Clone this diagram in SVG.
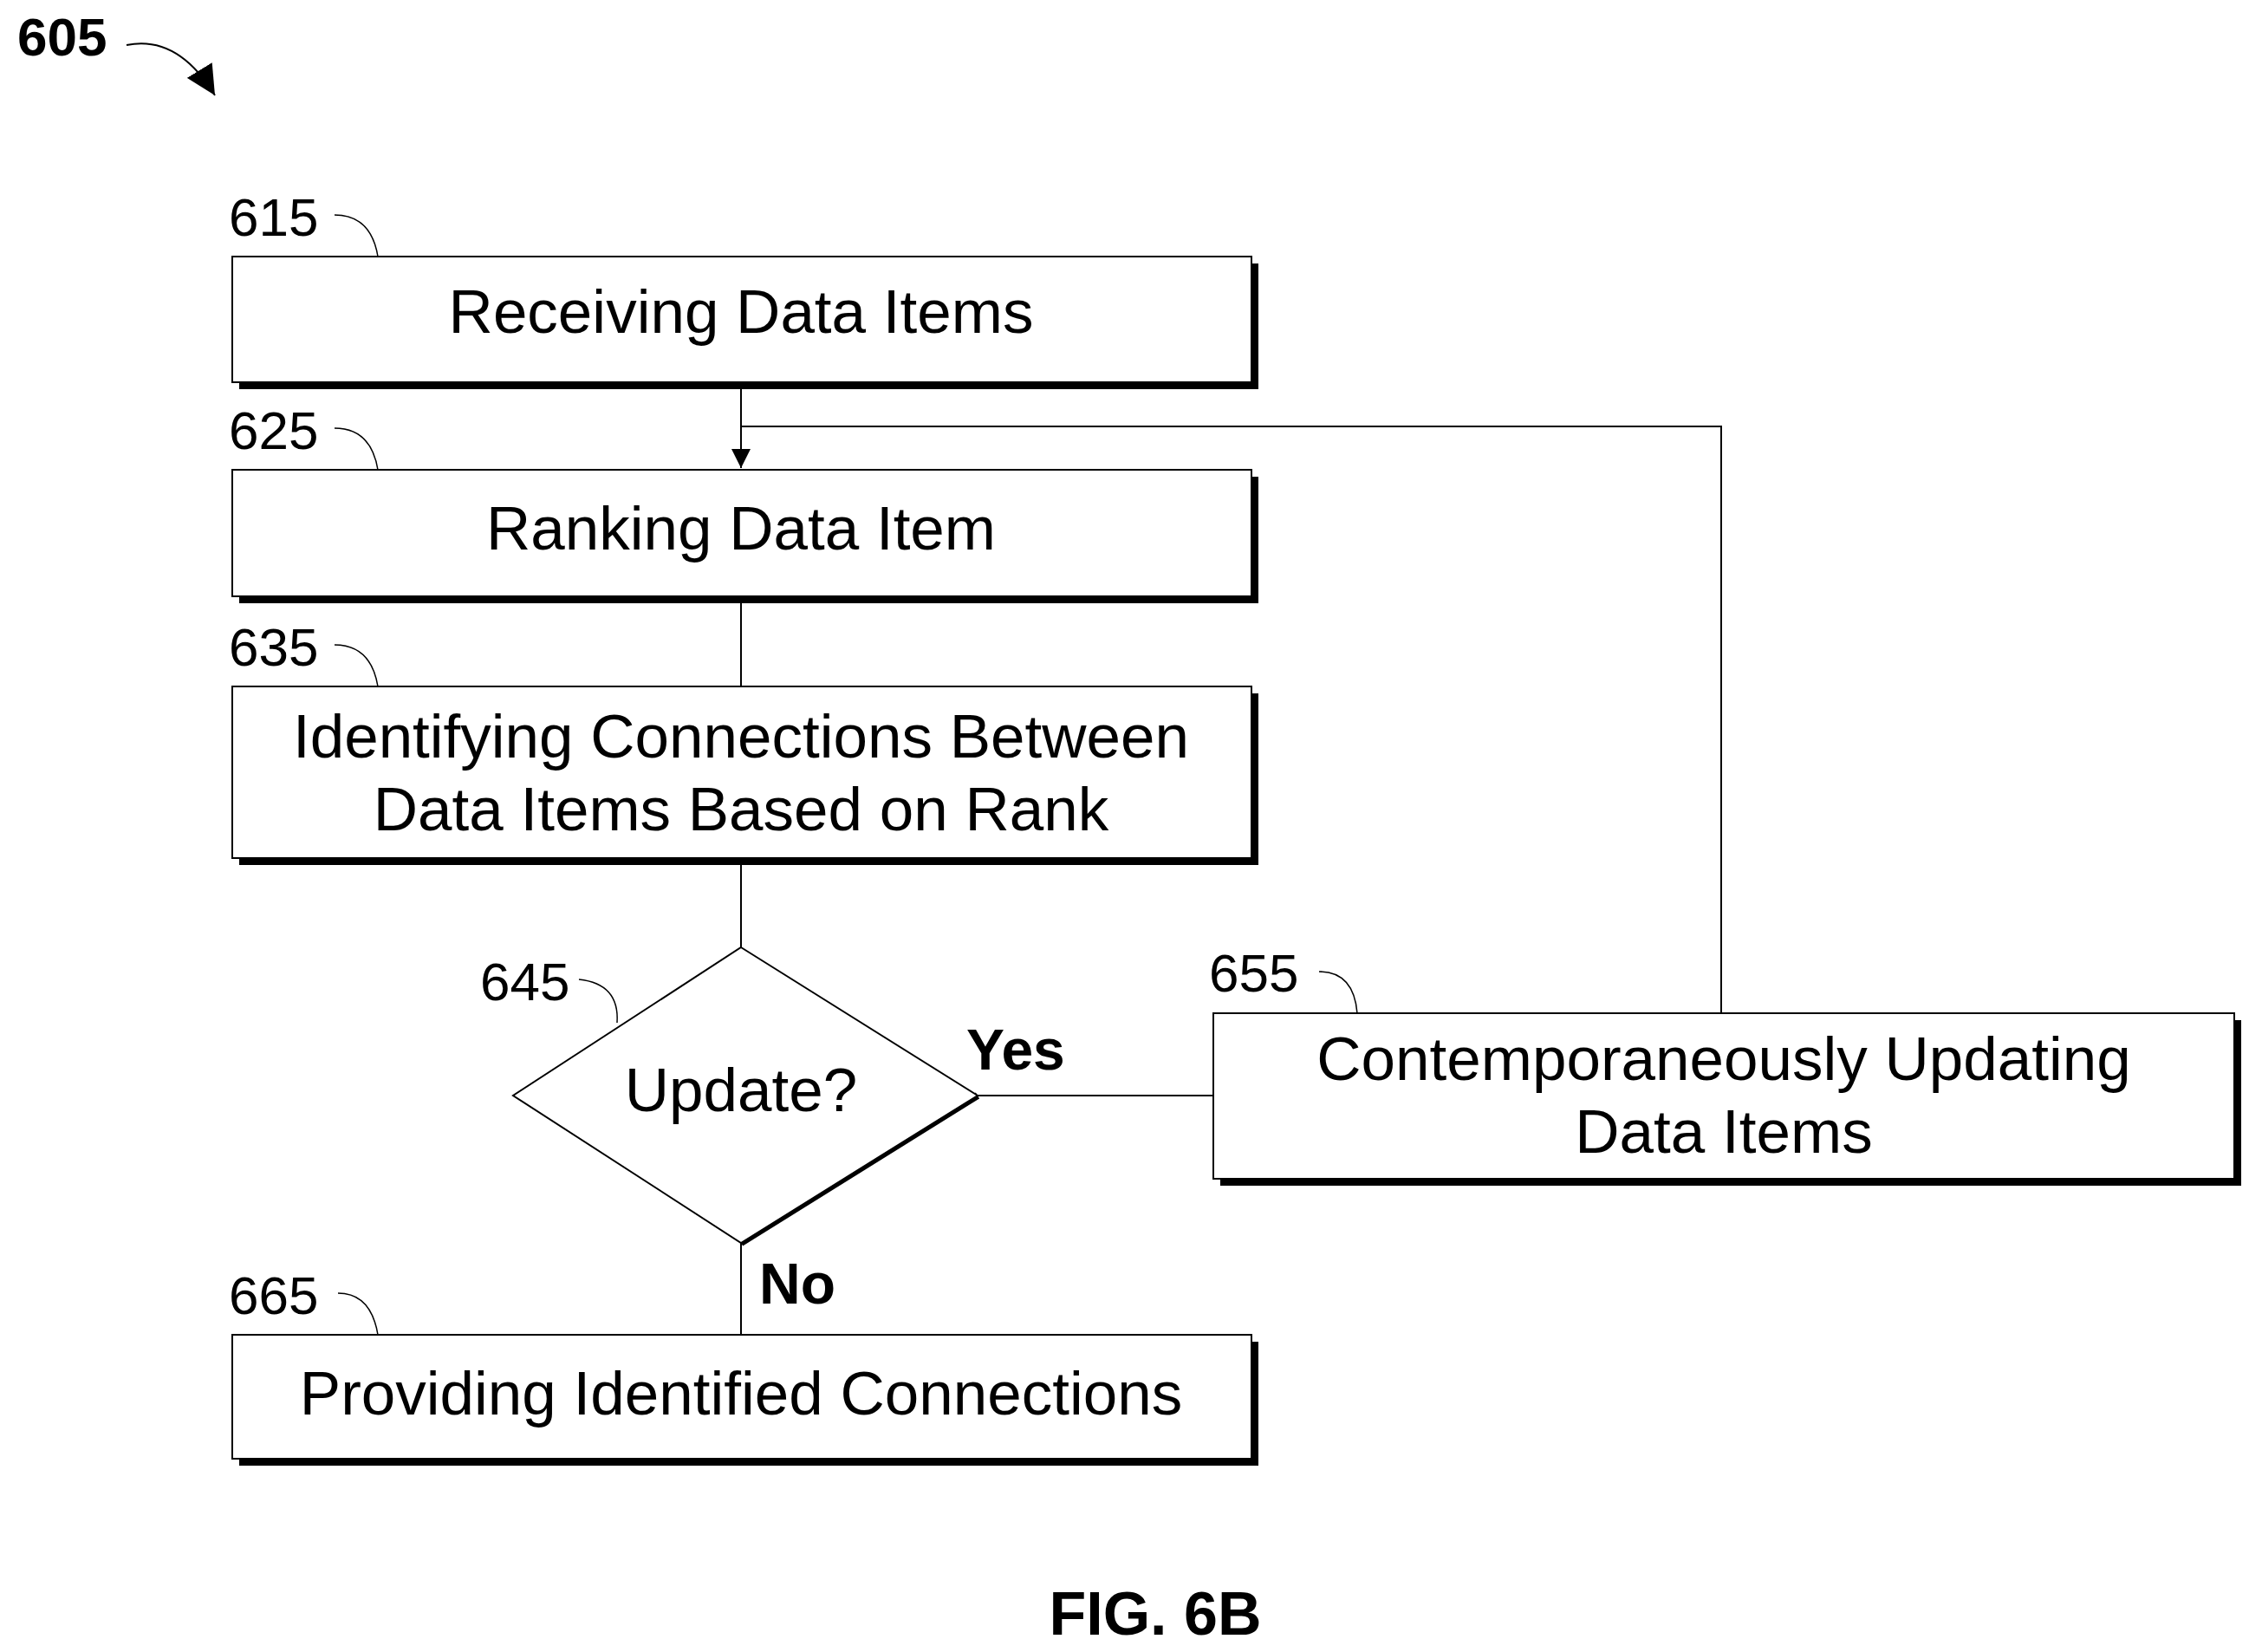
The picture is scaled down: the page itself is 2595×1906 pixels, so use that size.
<svg xmlns="http://www.w3.org/2000/svg" width="2595" height="1906" viewBox="0 0 2595 1906">
<defs>
<style>
.box{fill:#fff;stroke:#000;stroke-width:2}
.sh{fill:#000}
.t{font-family:"Liberation Sans",Arial,sans-serif;font-size:71px;fill:#000;text-anchor:middle}
.lbl{font-family:"Liberation Sans",Arial,sans-serif;font-size:62px;fill:#000}
.b{font-family:"Liberation Sans",Arial,sans-serif;font-weight:bold;fill:#000}
.ln{fill:none;stroke:#000;stroke-width:2}
.ld{fill:none;stroke:#000;stroke-width:1.5}
</style>
<marker id="ah2" viewBox="0 0 10 10" refX="10" refY="5" markerWidth="22" markerHeight="22" markerUnits="userSpaceOnUse" orient="auto"><path d="M0,0 L10,5 L0,10 z"/></marker>
<marker id="ah3" viewBox="0 0 10 10" refX="10" refY="5" markerWidth="34" markerHeight="34" markerUnits="userSpaceOnUse" orient="auto"><path d="M0,0 L10,5 L0,10 z"/></marker>
</defs>
<g id="fig605">
<text class="b" x="20" y="64" font-size="62">605</text>
<path class="ln" stroke-width="5" d="M146,52 Q205,40 248,110" marker-end="url(#ah3)"/>
</g>
<g id="connectors">
<line class="ln" x1="855" y1="441" x2="855" y2="540" marker-end="url(#ah2)"/>
<polyline class="ln" points="1986,1169 1986,492 855,492"/>
<line class="ln" x1="855" y1="688" x2="855" y2="792"/>
<line class="ln" x1="855" y1="990" x2="855" y2="1093"/>
<line class="ln" x1="1128" y1="1264" x2="1400" y2="1264"/>
<line class="ln" x1="855" y1="1434" x2="855" y2="1540"/>
<text class="b" x="1115" y="1234" font-size="66">Yes</text>
<text class="b" x="876" y="1504" font-size="66">No</text>
</g>
<g id="n615">
<rect class="sh" x="276" y="304" width="1176" height="145"/>
<rect class="box" x="268" y="296" width="1176" height="145"/>
<text class="t" x="855" y="384">Receiving Data Items</text>
<text class="lbl" x="264" y="272">615</text>
<path class="ld" d="M386,248 Q428,248 436,296"/>
</g>
<g id="n625">
<rect class="sh" x="276" y="550" width="1176" height="146"/>
<rect class="box" x="268" y="542" width="1176" height="146"/>
<text class="t" x="855" y="634">Ranking Data Item</text>
<text class="lbl" x="264" y="518">625</text>
<path class="ld" d="M386,494 Q428,494 436,542"/>
</g>
<g id="n635">
<rect class="sh" x="276" y="800" width="1176" height="198"/>
<rect class="box" x="268" y="792" width="1176" height="198"/>
<text class="t" x="855" y="874">Identifying Connections Between</text>
<text class="t" x="855" y="958">Data Items Based on Rank</text>
<text class="lbl" x="264" y="768">635</text>
<path class="ld" d="M386,744 Q428,744 436,792"/>
</g>
<g id="n645">
<polyline fill="none" stroke="#000" stroke-width="8" points="1128,1264 855,1434"/>
<polygon class="box" points="855,1093 1128,1264 855,1434 592,1264"/>
<text class="t" x="855" y="1282">Update?</text>
<text class="lbl" x="554" y="1154">645</text>
<path class="ld" d="M668,1130 Q715,1135 712,1180"/>
</g>
<g id="n655">
<rect class="sh" x="1408" y="1177" width="1178" height="191"/>
<rect class="box" x="1400" y="1169" width="1178" height="191"/>
<text class="t" x="1989" y="1246">Contemporaneously Updating</text>
<text class="t" x="1989" y="1330">Data Items</text>
<text class="lbl" x="1395" y="1144">655</text>
<path class="ld" d="M1522,1121 Q1562,1121 1566,1169"/>
</g>
<g id="n665">
<rect class="sh" x="276" y="1548" width="1176" height="143"/>
<rect class="box" x="268" y="1540" width="1176" height="143"/>
<text class="t" x="855" y="1632">Providing Identified Connections</text>
<text class="lbl" x="264" y="1516">665</text>
<path class="ld" d="M390,1492 Q428,1492 436,1540"/>
</g>
<text class="b" x="1333" y="1886" font-size="70" text-anchor="middle">FIG. 6B</text>
</svg>
